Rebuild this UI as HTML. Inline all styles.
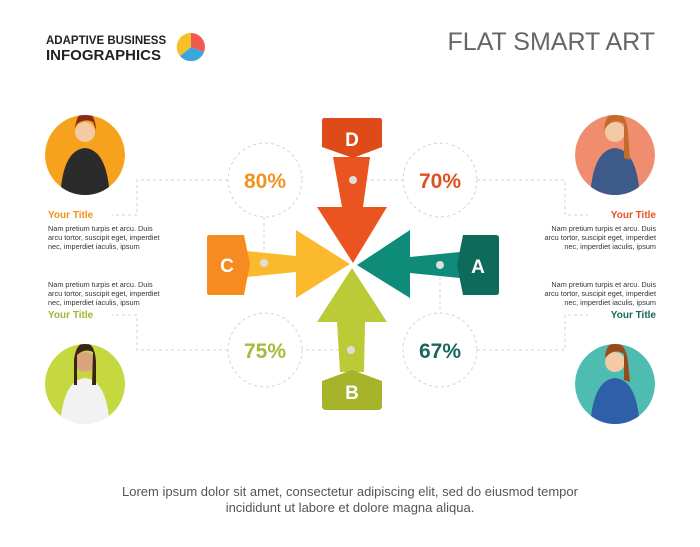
<!DOCTYPE html>
<html><head><meta charset="utf-8"><style>
body{margin:0;background:#fff;}
svg{display:block;font-family:"Liberation Sans",sans-serif;}
</style></head><body>
<svg id="chart" width="700" height="547" viewBox="0 0 700 547">
<defs>
<clipPath id="c1"><circle cx="85" cy="155" r="40"/></clipPath>
<clipPath id="c2"><circle cx="85" cy="384" r="40"/></clipPath>
<clipPath id="c3"><circle cx="615" cy="155" r="40"/></clipPath>
<clipPath id="c4"><circle cx="615" cy="384" r="40"/></clipPath>
</defs>
<rect width="700" height="547" fill="#fff"/>
<g>
<text x="46" y="44" font-size="11.5" font-weight="bold" fill="#222">ADAPTIVE BUSINESS</text>
<text x="46" y="60" font-size="15" font-weight="bold" fill="#222">INFOGRAPHICS</text>
<path d="M191,47 L191,33 A14,14 0 0 1 204,52 Z" fill="#f05a4a"/>
<path d="M191,47 L204,52 A14,14 0 0 1 180,56 Z" fill="#3aa6dd"/>
<path d="M191,47 L180,56 A14,14 0 0 1 191,33 Z" fill="#f7c02a"/>
</g>
<text x="655" y="50" font-size="25" fill="#666" text-anchor="end">FLAT SMART ART</text>

<g fill="none" stroke="#d3d3d3" stroke-dasharray="3,3" stroke-width="1">
<path d="M228,180 H137 V215 H112"/><path d="M228,350 H137 V315 H112"/>
<path d="M477,180 H565 V215 H588"/><path d="M477,350 H565 V315 H588"/>
<path d="M264,217 V263"/><path d="M353,180 H403"/><path d="M440,265 V313"/><path d="M351,350 H302"/>
<circle cx="265" cy="180" r="37"/><circle cx="440" cy="180" r="37"/>
<circle cx="265" cy="350" r="37"/><circle cx="440" cy="350" r="37"/>
</g>

<g>
<path d="M333,157 L370,157 L363,207 L387,207 L353,263 L317,207 L342,207 Z" fill="#ea5420"/>
<path d="M324,118 H380 Q382,118 382,121 V147 L353,158 L322,147 V121 Q322,118 324,118 Z" fill="#df4a19"/>
<text x="352" y="146" font-size="19" font-weight="bold" fill="#fff" text-anchor="middle">D</text>

<path d="M246,251 L296,256 L296,230 L350,264 L296,298 L296,272 L246,277 Z" fill="#fbba2e"/>
<path d="M209,235 H244 L250,264 L244,295 H209 Q207,295 207,292 V238 Q207,235 209,235 Z" fill="#f68b1f"/>
<text x="227" y="272" font-size="19" font-weight="bold" fill="#fff" text-anchor="middle">C</text>

<path d="M460,252 L410,257 L410,230 L357,265 L410,298 L410,273 L460,278 Z" fill="#0f8b79"/>
<path d="M463,235 H496 Q499,235 499,238 V292 Q499,295 496,295 H463 L457,265 Z" fill="#0e6a5a"/>
<text x="478" y="273" font-size="19" font-weight="bold" fill="#fff" text-anchor="middle">A</text>

<path d="M340,372 L337,322 L317,322 L352,268 L387,322 L365,322 L364,372 Z" fill="#bacb37"/>
<path d="M322,381 L352,370 L382,381 V406 Q382,410 378,410 H326 Q322,410 322,406 Z" fill="#a8b32c"/>
<text x="352" y="399" font-size="19" font-weight="bold" fill="#fff" text-anchor="middle">B</text>
<g fill="#ddd"><circle cx="353" cy="180" r="4"/><circle cx="264" cy="263" r="4"/><circle cx="440" cy="265" r="4"/><circle cx="351" cy="350" r="4"/></g>
</g>
<g id="pcts"></g>

<g>
<g clip-path="url(#c1)"><circle cx="85" cy="155" r="40" fill="#f7a21c"/><path d="M60,200 Q62,150 85,148 Q108,150 110,200 Z" fill="#2b2b2b"/><circle cx="85" cy="132" r="10" fill="#f3c9a6"/><path d="M75,128 Q77,112 85,112 Q95,112 96,130 L93,122 Q85,118 77,124 Z" fill="#8a2a1a"/></g>
<g clip-path="url(#c2)"><circle cx="85" cy="384" r="40" fill="#c5d83f"/><path d="M60,430 Q62,380 85,378 Q108,380 110,430 Z" fill="#f2f2f2"/><circle cx="85" cy="362" r="10" fill="#d9a57e"/><path d="M74,360 Q76,343 85,343 Q95,343 96,362 L96,385 L92,385 L93,352 Q85,348 77,355 L77,385 L74,385 Z" fill="#3a2418"/></g>
<g clip-path="url(#c3)"><circle cx="615" cy="155" r="40" fill="#f08d6e"/><path d="M590,200 Q592,150 615,148 Q638,150 640,200 Z" fill="#3e5a8a"/><circle cx="615" cy="132" r="10" fill="#f3c9a6"/><path d="M604,130 Q606,112 615,112 Q626,112 628,132 L630,160 L624,158 L624,124 Q615,118 607,126 Z" fill="#c46a2a"/></g>
<g clip-path="url(#c4)"><circle cx="615" cy="384" r="40" fill="#4ebcb0"/><path d="M590,430 Q592,380 615,378 Q638,380 640,430 Z" fill="#2f5fa8"/><circle cx="615" cy="362" r="10" fill="#f3c9a6"/><path d="M605,358 Q606,343 615,343 Q626,343 628,362 L630,382 L624,380 L624,354 Q615,348 607,356 Z" fill="#9a4a1a"/></g>
</g>

<g font-size="7.3" fill="#333">
<text x="48" y="218" font-size="10" font-weight="bold" fill="#f39019">Your Title</text>
<text x="48" y="231">Nam pretium turpis et arcu. Duis</text><text x="48" y="240">arcu tortor, suscipit eget, imperdiet</text><text x="48" y="249">nec, imperdiet iaculis, ipsum</text>
<text x="48" y="287">Nam pretium turpis et arcu. Duis</text><text x="48" y="296">arcu tortor, suscipit eget, imperdiet</text><text x="48" y="305">nec, imperdiet iaculis, ipsum</text>
<text x="48" y="318" font-size="10" font-weight="bold" fill="#a2b530">Your Title</text>
<g text-anchor="end">
<text x="656" y="218" font-size="10" font-weight="bold" fill="#e65323">Your Title</text>
<text x="656" y="231">Nam pretium turpis et arcu. Duis</text><text x="656" y="240">arcu tortor, suscipit eget, imperdiet</text><text x="656" y="249">nec, imperdiet iaculis, ipsum</text>
<text x="656" y="287">Nam pretium turpis et arcu. Duis</text><text x="656" y="296">arcu tortor, suscipit eget, imperdiet</text><text x="656" y="305">nec, imperdiet iaculis, ipsum</text>
<text x="656" y="318" font-size="10" font-weight="bold" fill="#17695b">Your Title</text>
</g></g>

<g font-size="13" fill="#555" text-anchor="middle">
<text x="350" y="496">Lorem ipsum dolor sit amet, consectetur adipiscing elit, sed do eiusmod tempor</text>
<text x="350" y="512">incididunt ut labore et dolore magna aliqua.</text>
</g>
</svg>
<script>
const categories = ["C","D","B","A"];
const values = [80,70,75,67];
const colors = ["#f0921e","#e0501f","#a9b93a","#19685b"];
const cx=[265,440,265,440], cy=[180,180,350,350];
const g=document.getElementById('pcts');
values.forEach((v,i)=>{
  const t=document.createElementNS('http://www.w3.org/2000/svg','text');
  
  
  t.setAttribute('x',cx[i]);t.setAttribute('y',cy[i]+8);
  t.setAttribute('font-size','21');t.setAttribute('font-weight','bold');
  t.setAttribute('text-anchor','middle');t.setAttribute('fill',colors[i]);
  t.textContent=v+'%';g.appendChild(t);
});
</script>
</body></html>
